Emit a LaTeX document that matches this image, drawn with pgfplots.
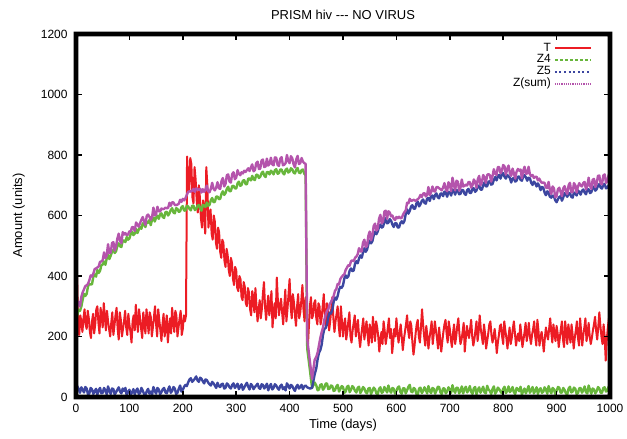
\documentclass[border=0pt]{standalone}
\usepackage{fontspec}
\setmainfont{Liberation Sans}
\usepackage{pgfplots}
\pgfplotsset{compat=1.18}
\usepackage{pgfplotstable}

\definecolor{colT}{RGB}{236,28,36}
\definecolor{colZfour}{RGB}{104,182,60}
\definecolor{colZfive}{RGB}{60,70,160}
\definecolor{colZsum}{RGB}{180,84,172}

% T, every 2 days
\pgfplotstableread{
t T
0 60
2 400
4 230
6 205
8 270
10 250
12 215
14 260
16 290
18 240
20 225
22 285
24 260
26 215
28 195
30 250
32 275
34 210
36 240
38 290
40 300
42 245
44 210
46 295
48 265
50 230
52 310
54 265
56 220
58 285
60 250
62 225
64 200
66 245
68 280
70 205
72 235
74 270
76 295
78 225
80 190
82 280
84 255
86 200
88 225
90 250
92 285
94 230
96 205
98 275
100 240
102 215
104 180
106 250
108 270
110 220
112 305
114 250
116 215
118 290
120 260
122 225
124 195
126 280
128 245
130 210
132 290
134 255
136 210
138 280
140 265
142 200
144 230
146 265
148 300
150 240
152 200
154 290
156 255
158 220
160 185
162 240
164 275
166 200
168 235
170 270
172 180
174 225
176 260
178 210
180 295
182 250
184 215
186 285
188 270
190 200
192 230
194 260
196 285
198 205
200 225
202 270
204 250
206 270
208 795
210 720
212 680
214 790
216 770
218 660
220 640
222 760
224 720
226 650
228 610
230 700
232 660
234 590
236 560
238 650
240 600
242 540
244 760
246 700
248 560
250 600
252 620
254 540
256 520
258 600
260 580
262 510
264 490
266 560
268 545
270 480
272 460
274 520
276 510
278 450
280 430
282 490
284 470
286 420
288 400
290 460
292 445
294 390
296 370
298 430
300 420
302 360
304 350
306 400
308 390
310 330
312 320
314 380
316 365
318 310
320 300
322 360
324 345
326 290
328 270
330 350
332 330
334 280
336 360
338 300
340 250
342 290
344 320
346 260
348 290
350 340
352 380
354 300
356 255
358 300
360 335
362 270
364 300
366 350
368 230
370 280
372 310
374 260
376 395
378 320
380 270
382 300
384 325
386 280
388 240
390 300
392 355
394 250
396 290
398 340
400 390
402 300
404 260
406 340
408 315
410 270
412 235
414 300
416 340
418 260
420 280
422 320
424 370
426 290
428 250
430 330
432 300
434 160
436 230
438 300
440 330
442 260
444 270
446 310
448 320
450 260
452 240
454 310
456 300
458 240
460 260
462 300
464 340
466 270
468 230
470 310
472 290
474 220
476 250
478 290
480 330
482 260
484 215
486 250
488 275
490 300
492 235
494 200
496 300
498 250
500 200
502 240
504 260
506 190
508 215
510 250
512 280
514 200
516 180
518 220
520 245
522 270
524 200
526 230
528 255
530 200
532 165
534 200
536 230
538 260
540 190
542 220
544 250
546 210
548 170
550 240
552 220
554 180
556 265
558 225
560 185
562 250
564 230
566 200
568 150
570 190
572 215
574 175
576 250
578 220
580 175
582 200
584 230
586 260
588 195
590 225
592 145
594 180
596 225
598 200
600 260
602 215
604 180
606 210
608 240
610 200
612 155
614 190
616 215
618 240
620 270
622 220
624 195
626 250
628 235
630 180
632 140
634 170
636 210
638 240
640 255
642 200
644 180
646 230
648 290
650 240
652 200
654 170
656 235
658 200
660 160
662 195
664 220
666 250
668 175
670 210
672 250
674 220
676 195
678 160
680 230
682 190
684 150
686 185
688 215
690 240
692 255
694 210
696 180
698 250
700 225
702 190
704 165
706 210
708 240
710 175
712 200
714 235
716 260
718 210
720 175
722 190
724 215
726 245
728 150
730 195
732 235
734 210
736 195
738 225
740 255
742 200
744 170
746 190
748 220
750 250
752 185
754 215
756 270
758 225
760 200
762 175
764 240
766 210
768 160
770 185
772 210
774 240
776 250
778 205
780 180
782 200
784 225
786 190
788 145
790 180
792 205
794 235
796 240
798 200
800 175
802 250
804 220
806 195
808 160
810 200
812 230
814 175
816 195
818 225
820 250
822 210
824 170
826 195
828 210
830 185
832 240
834 205
836 165
838 190
840 215
842 245
844 185
846 210
848 245
850 200
852 175
854 205
856 225
858 250
860 200
862 170
864 255
866 220
868 170
870 200
872 215
874 185
876 150
878 195
880 230
882 205
884 190
886 225
888 260
890 215
892 180
894 240
896 210
898 185
900 235
902 210
904 165
906 195
908 225
910 250
912 190
914 165
916 250
918 215
920 175
922 240
924 210
926 180
928 240
930 205
932 160
934 195
936 220
938 250
940 195
942 170
944 260
946 215
948 170
950 205
952 230
954 260
956 185
958 210
960 245
962 200
964 175
966 195
968 220
970 240
972 265
974 220
976 190
978 230
980 280
982 235
984 200
986 175
988 240
990 200
992 120
994 190
996 230
998 260
1000 210
}\Tdata

% Z4, Z5 and their sum, every 2.5 days
\pgfplotstableread{
t z4 z5 zs
0 250 45 295
2.5 272 35 307
5 288 26 314
7.5 285 14 299
10 299 32 331
12.5 322 24 346
15 341 15 356
17.5 334 33 367
20 341 28 369
22.5 366 8 374
25 374 12 386
27.5 372 30 402
30 373 25 398
32.5 398 10 408
35 405 18 423
37.5 398 27 425
40 420 8 428
42.5 410 22 432
45 417 30 447
47.5 436 12 448
50 438 14 452
52.5 448 30 478
55 437 22 459
57.5 458 9 467
60 470 35 505
62.5 456 20 476
65 467 10 477
67.5 481 28 509
70 486 26 512
72.5 476 8 484
75 482 16 498
77.5 500 24 524
80 508 32 540
82.5 498 18 516
85 496 12 508
87.5 517 28 545
90 517 20 537
92.5 512 30 542
95 529 6 535
97.5 520 17 537
100 524 24 548
102.5 539 8 547
105 547 15 562
107.5 535 26 561
110 540 9 549
112.5 556 21 577
115 542 28 570
117.5 553 10 563
120 562 13 575
122.5 556 30 586
125 574 21 595
127.5 570 10 580
130 562 7 569
132.5 580 19 599
135 576 27 603
137.5 585 11 596
140 568 18 586
142.5 587 8 595
145 593 33 626
147.5 580 20 600
150 593 11 604
152.5 599 30 629
155 589 25 614
157.5 604 9 613
160 607 16 623
162.5 595 26 621
165 592 30 622
167.5 611 15 626
170 612 12 624
172.5 600 25 625
175 607 35 642
177.5 618 14 632
180 624 20 644
182.5 610 33 643
185 607 28 635
187.5 624 10 634
190 622 14 636
192.5 612 27 639
195 614 38 652
197.5 627 18 645
200 631 24 655
202.5 616 34 650
205 617 40 657
207.5 632 36 668
210 630 48 678
212.5 622 58 680
215 617 62 679
217.5 632 50 682
220 633 55 688
222.5 618 60 678
225 621 68 689
227.5 632 55 687
230 635 50 685
232.5 624 64 688
235 616 60 676
237.5 635 52 687
240 633 45 678
242.5 628 58 686
245 643 56 699
247.5 632 48 680
250 635 42 677
252.5 650 38 688
255 658 50 708
257.5 644 45 689
260 645 38 683
262.5 662 30 692
265 663 47 710
267.5 654 36 690
270 655 33 688
272.5 672 42 714
275 680 44 724
277.5 668 28 696
280 674 30 704
282.5 688 45 733
285 695 41 736
287.5 680 32 712
290 681 28 709
292.5 697 40 737
295 698 45 743
297.5 690 30 720
300 689 36 725
302.5 706 44 750
305 712 26 738
307.5 698 35 733
310 701 42 743
312.5 715 24 739
315 717 31 748
317.5 704 40 744
320 703 47 750
322.5 722 34 756
325 722 25 747
327.5 716 43 759
330 731 38 769
332.5 720 26 746
335 717 33 750
337.5 735 38 773
340 734 44 778
342.5 724 30 754
345 728 27 755
347.5 740 42 782
350 745 40 785
352.5 732 28 760
355 727 35 762
357.5 744 44 788
360 743 22 765
362.5 736 35 771
365 748 43 791
367.5 744 25 769
370 736 30 766
372.5 750 42 792
375 753 38 791
377.5 738 29 767
380 740 24 764
382.5 752 36 788
385 752 41 793
387.5 740 26 766
390 736 32 768
392.5 751 22 773
395 755 45 800
397.5 742 38 780
400 745 28 773
402.5 756 40 796
405 753 36 789
407.5 742 27 769
410 739 20 759
412.5 752 34 786
415 757 40 797
417.5 742 28 770
420 740 33 773
422.5 750 40 790
425 752 26 778
427.5 738 35 773
430 733 38 771
433 160 32 192
438 90 28 118
442 30 30 60
447 48 75 123
450 38 95 133
452.5 22 125 147
455 25 146 171
457.5 40 155 195
460 42 172 214
462.5 24 205 229
465 30 225 255
467.5 44 228 272
470 45 240 285
472.5 26 264 290
475 28 279 307
477.5 38 276 314
480 36 288 324
482.5 20 314 334
485 22 329 351
487.5 35 322 357
490 40 334 374
492.5 18 354 372
495 26 364 390
497.5 36 361 397
500 33 369 402
502.5 14 392 406
505 18 402 420
507.5 34 394 428
510 37 399 436
512.5 16 418 434
515 24 425 449
517.5 36 416 452
520 31 418 449
522.5 20 440 460
525 15 449 464
527.5 30 442 472
530 34 458 492
532.5 13 468 481
535 21 460 481
537.5 33 478 511
540 28 492 520
542.5 16 480 496
545 12 487 499
547.5 28 505 533
550 30 517 547
552.5 10 508 518
555 19 515 534
557.5 31 535 566
560 26 547 573
562.5 12 538 550
565 9 547 556
567.5 27 562 589
570 32 570 602
572.5 14 560 574
575 17 563 580
577.5 33 580 613
580 25 591 616
582.5 15 574 589
585 38 576 614
587.5 22 588 610
590 14 583 597
592.5 30 570 600
595 27 562 589
597.5 11 574 585
600 20 575 595
602.5 31 560 591
605 35 561 596
607.5 16 575 591
610 11 581 592
612.5 29 574 603
615 29 582 611
617.5 12 605 617
620 22 620 642
622.5 34 606 640
625 40 615 655
627.5 18 630 648
630 16 634 650
632.5 30 622 652
635 26 623 649
637.5 10 640 650
640 8 646 654
642.5 28 630 658
645 31 637 668
647.5 13 648 661
650 19 653 672
652.5 32 642 674
655 24 639 663
657.5 12 656 668
660 36 658 694
662.5 20 648 668
665 13 664 677
667.5 30 666 696
670 27 654 681
672.5 11 668 679
675 21 673 694
677.5 34 660 694
680 33 657 690
682.5 15 672 687
685 10 673 683
687.5 29 664 693
690 28 679 707
692.5 12 675 687
695 18 662 680
697.5 32 678 710
700 25 677 702
702.5 14 666 680
705 39 686 725
707.5 22 681 703
710 14 669 683
712.5 31 684 715
715 30 682 712
717.5 12 670 682
720 20 672 692
722.5 35 684 719
725 12 684 696
727.5 26 672 698
730 34 668 702
732.5 15 684 699
735 23 688 711
737.5 36 674 710
740 17 675 692
742.5 10 690 700
745 29 690 719
747.5 33 678 711
750 9 683 692
752.5 24 696 720
755 32 699 731
757.5 14 686 700
760 24 685 709
762.5 34 700 734
765 15 710 725
767.5 12 696 708
770 37 697 734
772.5 25 712 737
775 20 713 733
777.5 10 702 712
780 26 704 730
782.5 35 718 753
785 11 727 738
787.5 18 716 734
790 31 729 760
792.5 26 734 760
795 18 722 740
797.5 12 736 748
800 27 740 767
802.5 34 728 762
805 13 722 735
807.5 20 734 754
810 35 730 765
812.5 16 724 740
815 22 709 731
817.5 33 722 755
820 16 724 740
822.5 10 712 722
825 30 715 745
827.5 26 728 754
830 19 729 748
832.5 34 718 752
835 8 715 723
837.5 20 728 748
840 28 733 761
842.5 12 726 738
845 24 715 739
847.5 36 725 761
850 14 723 737
852.5 22 708 730
855 33 701 734
857.5 12 712 724
860 21 707 728
862.5 32 696 728
865 10 706 716
867.5 24 698 722
870 29 684 713
872.5 14 694 708
875 17 692 709
877.5 32 676 708
880 25 667 692
882.5 11 680 691
885 36 675 711
887.5 22 662 684
890 12 659 671
892.5 30 666 696
895 26 664 690
897.5 10 650 660
900 20 644 664
902.5 33 654 687
905 31 661 692
907.5 14 664 678
910 15 649 664
912.5 30 660 690
915 23 674 697
917.5 12 668 680
920 9 662 671
922.5 28 672 700
925 34 674 708
927.5 15 662 677
930 18 659 677
932.5 31 676 707
935 27 673 700
937.5 10 666 676
940 13 683 696
942.5 29 678 707
945 30 669 699
947.5 14 682 696
950 22 686 708
952.5 35 676 711
955 16 670 686
957.5 12 686 698
960 38 687 725
962.5 24 674 698
965 11 677 688
967.5 28 690 718
970 25 696 721
972.5 12 682 694
975 19 687 706
977.5 33 698 731
980 28 704 732
982.5 14 692 706
985 14 689 703
987.5 30 702 732
990 32 704 736
992.5 18 690 708
995 21 692 713
997.5 34 700 734
1000 26 699 725
}\Zdata

\begin{document}
\begin{tikzpicture}
\begin{axis}[
    scale only axis,
    width=534bp, height=363bp,
    xmin=0, xmax=1000, ymin=0, ymax=1200,
    xtick={0,100,...,1000},
    ytick={0,200,...,1200},
    font=\fontsize{12}{14}\selectfont,
    /pgf/number format/assume math mode=true,
    /pgf/number format/1000 sep={},
    axis line style={black, line width=4.5bp},
    tick align=inside,
    major tick length=6bp,
    tick style={black, line width=1.6bp},
    axis on top,
    xticklabel style={yshift=-4bp},
    yticklabel style={xshift=-5bp},
    every axis title shift=0pt,
    title={PRISM hiv -{}-{}- NO VIRUS},
    title style={at={(0.5,1.0413)}, anchor=base, font=\fontsize{13}{15}\selectfont},
    xlabel={Time (days)},
    xlabel style={at={(0.5,-0.0854)}, anchor=base, font=\fontsize{13}{15}\selectfont},
    ylabel={Amount (units)},
    ylabel style={at={(-0.1011,0.5)}, anchor=base, font=\fontsize{13}{15}\selectfont},
    legend plot pos=right,
    legend cell align=right,
    legend style={at={(0.972,0.984)}, anchor=north east, draw=none, fill=none,
        font=\fontsize{12}{12}\selectfont, row sep=0bp,
        nodes={inner ysep=0.3bp, inner xsep=3bp, text height=8.7bp, text depth=2.6bp}},
    every axis plot/.append style={line join=round},
]
\addplot[colT, line width=2bp,
    legend image code/.code={\draw[colT, line width=2bp] (0bp,0bp) -- (36bp,0bp);}]
    table[x=t, y=T] {\Tdata};
\addlegendentry{T}
\addplot[colZfour, line width=2.4bp,
    legend image code/.code={\draw[colZfour, line width=1.7bp, dash pattern=on 3bp off 2bp] (0bp,0bp) -- (36bp,0bp);}]
    table[x=t, y=z4] {\Zdata};
\addlegendentry{Z4}
\addplot[colZfive, line width=2.4bp,
    legend image code/.code={\draw[colZfive, line width=1.7bp, dash pattern=on 2bp off 2.6bp] (0bp,0bp) -- (36bp,0bp);}]
    table[x=t, y=z5] {\Zdata};
\addlegendentry{Z5}
\addplot[colZsum, line width=2.4bp,
    legend image code/.code={\draw[colZsum, line width=1.9bp, dash pattern=on 1.2bp off 1bp] (0bp,0bp) -- (36bp,0bp);}]
    table[x=t, y=zs] {\Zdata};
\addlegendentry{Z(sum)}
\coordinate (bl) at (rel axis cs:0,0);
\coordinate (tr) at (rel axis cs:1,1);
\end{axis}
% heavy frame as a filled ring
\fill[black, even odd rule]
    ([shift={(-2.4bp,-2.4bp)}]bl) rectangle ([shift={(2.4bp,2.4bp)}]tr)
    ([shift={(2.4bp,2.4bp)}]bl) rectangle ([shift={(-2.4bp,-2.4bp)}]tr);
\pgfresetboundingbox
\path[use as bounding box] ([shift={(-76bp,-42bp)}]bl) rectangle ([shift={(17bp,34bp)}]tr);
\end{tikzpicture}
\end{document}
